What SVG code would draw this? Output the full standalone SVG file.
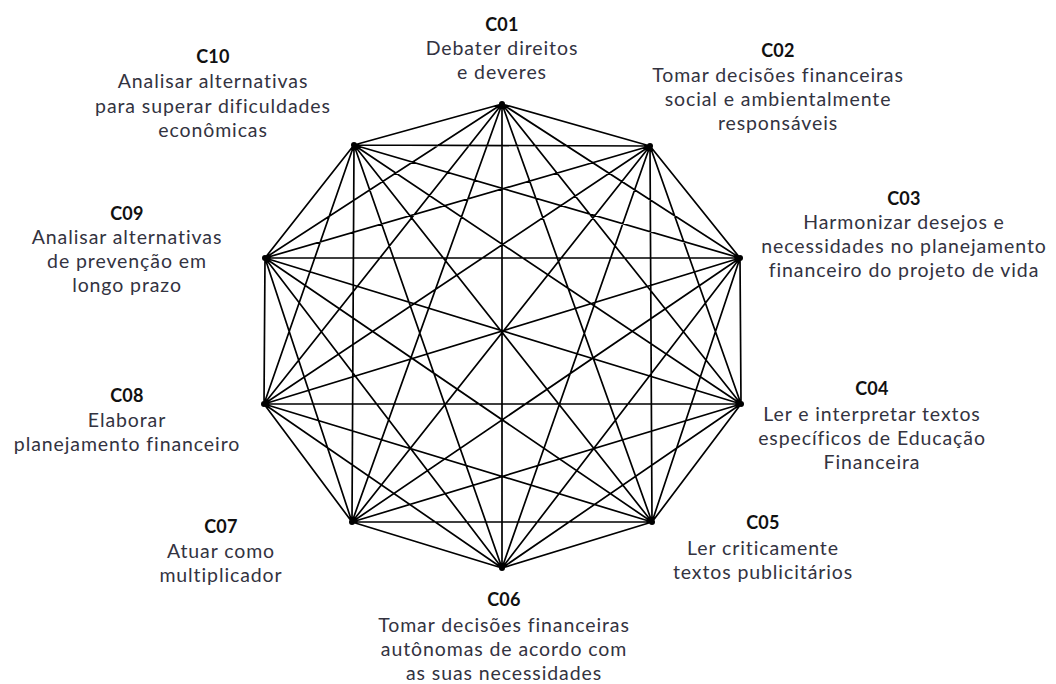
<svg xmlns="http://www.w3.org/2000/svg" width="1056" height="684" viewBox="0 0 1056 684">
<style>
.e{stroke:#000;stroke-width:1.7;fill:none;stroke-linecap:round}
.v{fill:#000}
text{font-family:Lato,"Open Sans","DejaVu Sans",sans-serif;font-size:19.5px;letter-spacing:0.9px;fill:#33333f;text-anchor:middle}
.h{font-weight:bold;fill:#111;font-size:18px;letter-spacing:0.3px}
</style>
<rect width="1056" height="684" fill="#fff"/>
<g id="connectors">
<path class="e" d="M502,104L650,146M502,104L740,258M502,104L741,404M502,104L652,522M502,104L502,568M502,104L352,522M502,104L264,404M502,104L265,258M502,104L354,145
M650,146L740,258M650,146L741,404M650,146L652,522M650,146L502,568M650,146L352,522M650,146L264,404M650,146L265,258M650,146L354,145
M740,258L741,404M740,258L652,522M740,258L502,568M740,258L352,522M740,258L264,404M740,258L265,258M740,258L354,145
M741,404L652,522M741,404L502,568M741,404L352,522M741,404L264,404M741,404L265,258M741,404L354,145
M652,522L502,568M652,522L352,522M652,522L264,404M652,522L265,258M652,522L354,145
M502,568L352,522M502,568L264,404M502,568L265,258M502,568L354,145
M352,522L264,404M352,522L265,258M352,522L354,145
M264,404L265,258M264,404L354,145
M265,258L354,145"/>
</g>
<g id="C01"><circle class="v" cx="502" cy="104" r="3"/><text x="502" y="31" class="h">C01</text><text x="502" y="55">Debater direitos</text><text x="502" y="79">e deveres</text></g>
<g id="C02"><circle class="v" cx="650" cy="146" r="3"/><text x="778" y="57" class="h">C02</text><text x="778" y="82">Tomar decisões financeiras</text><text x="778" y="106">social e ambientalmente</text><text x="778" y="130">responsáveis</text></g>
<g id="C03"><circle class="v" cx="740" cy="258" r="3"/><text x="904" y="205" class="h">C03</text><text x="904" y="229">Harmonizar desejos e</text><text x="904" y="253">necessidades no planejamento</text><text x="904" y="277">financeiro do projeto de vida</text></g>
<g id="C04"><circle class="v" cx="741" cy="404" r="3"/><text x="872" y="395" class="h">C04</text><text x="872" y="421">Ler e interpretar textos</text><text x="872" y="445">específicos de Educação</text><text x="872" y="469">Financeira</text></g>
<g id="C05"><circle class="v" cx="652" cy="522" r="3"/><text x="763" y="529" class="h">C05</text><text x="763" y="555">Ler criticamente</text><text x="763" y="579">textos publicitários</text></g>
<g id="C06"><circle class="v" cx="502" cy="568" r="3"/><text x="504" y="606" class="h">C06</text><text x="504" y="632">Tomar decisões financeiras</text><text x="504" y="656">autônomas de acordo com</text><text x="504" y="680">as suas necessidades</text></g>
<g id="C07"><circle class="v" cx="352" cy="522" r="3"/><text x="221" y="533" class="h">C07</text><text x="221" y="558">Atuar como</text><text x="221" y="582">multiplicador</text></g>
<g id="C08"><circle class="v" cx="264" cy="404" r="3"/><text x="127" y="402" class="h">C08</text><text x="127" y="427">Elaborar</text><text x="127" y="451">planejamento financeiro</text></g>
<g id="C09"><circle class="v" cx="265" cy="258" r="3"/><text x="127" y="220" class="h">C09</text><text x="127" y="244">Analisar alternativas</text><text x="127" y="268">de prevenção em</text><text x="127" y="292">longo prazo</text></g>
<g id="C10"><circle class="v" cx="354" cy="145" r="3"/><text x="213" y="63" class="h">C10</text><text x="213" y="88">Analisar alternativas</text><text x="213" y="113">para superar dificuldades</text><text x="213" y="137">econômicas</text></g>
</svg>
